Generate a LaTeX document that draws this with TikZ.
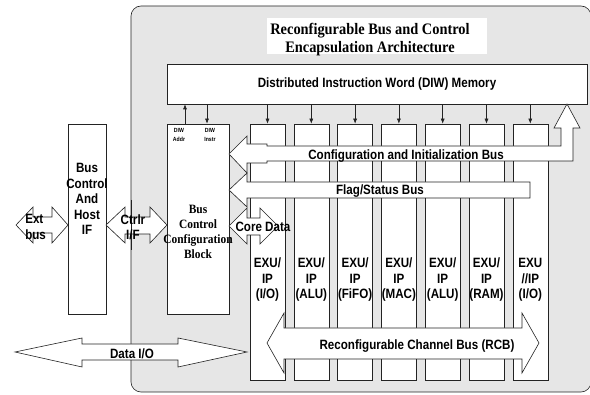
\documentclass[tikz,border=0pt]{standalone}
\usepackage{fontspec}
\setmainfont{Liberation Serif}
\newfontfamily\labfont[FakeStretch=0.86]{Liberation Sans}
\newfontfamily\blkfont[FakeStretch=0.9]{Liberation Serif}
\usetikzlibrary{arrows.meta}
\definecolor{panelgray}{RGB}{230,230,230}
\definecolor{edgegray}{RGB}{35,35,35}
\begin{document}
\begin{tikzpicture}[x=1pt, y=-1pt, line width=0.6pt,
  every node/.style={font={\labfont\bfseries\fontsize{13.5}{15.5}\selectfont},inner sep=0pt,align=center},
  box/.style={draw=edgegray,fill=white},
  bus/.style={draw=edgegray,fill=white,line join=miter},
  diwarr/.style={draw=edgegray,-{Latex[length=5pt,width=4pt]}},
  serifbold/.style={font={\blkfont\bfseries\fontsize{12.7}{15}\selectfont}}]
\useasboundingbox (0,0) rectangle (590,395);
% encapsulation panel
\draw[draw=edgegray,fill=panelgray,rounded corners=10pt] (131,6) rectangle (591,392);
\node[fill=white,minimum width=220pt,minimum height=36pt] (ttlbox) at (377,36) {};
\node[font={\blkfont\bfseries\fontsize{16}{18}\selectfont}] (ttl) at (370,40) {Reconfigurable Bus and Control\\Encapsulation Architecture};
\node[box,minimum width=420pt,minimum height=40pt] (diw) at (377,84) {Distributed Instruction Word (DIW) Memory};
% host side
\node[box,minimum width=38pt,minimum height=190pt] (host) at (87,219) {};
\node (hostlbl) at (87,199) {Bus\\Control\\And\\Host\\IF};
\node[box,minimum width=62pt,minimum height=190pt] (blk) at (198,219) {};
\node[serifbold] (blklbl) at (198,232) {Bus\\Control\\Configuration\\Block};
\node[font={\labfont\bfseries\fontsize{6}{9}\selectfont}] (addrlbl) at (179,135) {DIW\\Addr};
\node[font={\labfont\bfseries\fontsize{6}{9}\selectfont}] (instrlbl) at (210,135) {DIW\\Instr};
\coordinate (addr) at ([xshift=-13pt]blk.north);
\coordinate (instr) at ([xshift=9pt]blk.north);
\draw[diwarr] (addr) -- (diw.south -| addr);
\draw[diwarr] (diw.south -| instr) -- (instr);
% EXU/IP columns
\foreach \i in {1,...,7} {
  \node[box,minimum width=35pt,minimum height=256pt] (col\i) at ({267.5+(\i-1)*43.8},252) {};
  \draw[diwarr] (diw.south -| col\i.north) -- (col\i.north);
}
% buses
\draw[bus] (229,154) -- (247,136) -- (247,144) -- (267,144) -- (267,146) -- (561,146) -- (561,128) -- (554,128)
  -- (567,104) -- (580,128) -- (573,128) -- (573,161) -- (267,161) -- (267,163) -- (247,163) -- (247,173) -- cycle;
\draw[bus] (229,190) -- (247,173) -- (247,182) -- (530,182) -- (530,198) -- (247,198) -- (247,207) -- cycle;
\draw[bus] (229,226) -- (247,208) -- (247,218) -- (260,218) -- (260,208) -- (278,226) -- (260,244) -- (260,235)
  -- (247,235) -- (247,244) -- cycle;
\draw[bus] (267,343) -- (284,313) -- (284,328) -- (522,328) -- (522,313) -- (539,343) -- (522,373) -- (522,359)
  -- (284,359) -- (284,373) -- cycle;
\draw[bus] (16,225) -- (33,207) -- (33,217) -- (52,217) -- (52,207) -- (68,225) -- (52,243) -- (52,233)
  -- (33,233) -- (33,243) -- cycle;
\draw[bus] (106,225) -- (125,207) -- (125,217) -- (150,217) -- (150,207) -- (167,225) -- (150,243) -- (150,234)
  -- (125,234) -- (125,243) -- cycle;
\draw[draw=edgegray] (131,200) -- (131,250);
\draw[bus] (15,352) -- (82,338) -- (82,344) -- (178,344) -- (178,338) -- (247,352) -- (178,367) -- (178,360)
  -- (82,360) -- (82,367) -- cycle;
% labels
\foreach \i/\lab in {1/{EXU/\\IP\\(I/O)},2/{EXU/\\IP\\(ALU)},3/{EXU/\\IP\\(FiFO)},4/{EXU/\\IP\\(MAC)},
  5/{EXU/\\IP\\(ALU)},6/{EXU/\\IP\\(RAM)},7/{EXU\\//IP\\(I/O)}}
  \node (exu\i) at ([yshift=-28pt]col\i.center) {\lab};
\node (cfglbl) at (406,156) {Configuration and Initialization Bus};
\node (flaglbl) at (380,191) {Flag/Status Bus};
\node (corelbl) at (263,227) {Core Data};
\node (rcblbl) at (417,346) {Reconfigurable Channel Bus (RCB)};
\node (iolbl) at (132,354) {Data I/O};
\node (ctrllbl) at (133,227) {Ctrlr\\I/F};
\node[anchor=west,align=left] (extlbl) at (25,227) {Ext\\bus};
\end{tikzpicture}
\end{document}
